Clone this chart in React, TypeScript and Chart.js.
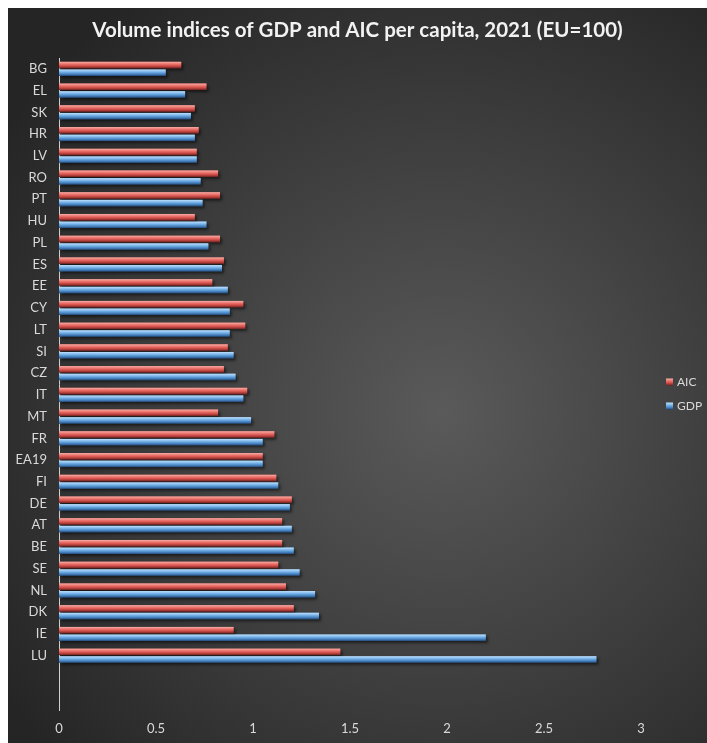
import React, { useEffect, useRef } from "react";
import { Chart, registerables } from "chart.js";

Chart.register(...registerables);

const TITLE = "Volume indices of GDP and AIC per capita, 2021 (EU=100)";
const categories = ["BG", "EL", "SK", "HR", "LV", "RO", "PT", "HU", "PL", "ES", "EE", "CY", "LT", "SI", "CZ", "IT", "MT", "FR", "EA19", "FI", "DE", "AT", "BE", "SE", "NL", "DK", "IE", "LU", "", ""];
const aicValues = [0.63, 0.76, 0.70, 0.72, 0.71, 0.82, 0.83, 0.70, 0.83, 0.85, 0.79, 0.95, 0.96, 0.87, 0.85, 0.97, 0.82, 1.11, 1.05, 1.12, 1.20, 1.15, 1.15, 1.13, 1.17, 1.21, 0.90, 1.45];
const gdpValues = [0.55, 0.65, 0.68, 0.70, 0.71, 0.73, 0.74, 0.76, 0.77, 0.84, 0.87, 0.88, 0.88, 0.90, 0.91, 0.95, 0.99, 1.05, 1.05, 1.13, 1.19, 1.20, 1.21, 1.24, 1.32, 1.34, 2.20, 2.77];
const seriesNames = ["AIC", "GDP"];

const redStops: [number, string][] = [[0, "#f7b0aa"], [0.25, "#ef827b"], [0.55, "#dc5752"], [0.8, "#aa3b38"], [1, "#6a2220"]];
const blueStops: [number, string][] = [[0, "#c0e0fb"], [0.25, "#92c4f2"], [0.55, "#5c9dd8"], [0.8, "#3f74b0"], [1, "#234876"]];
const stopSets = [redStops, blueStops];

function fillBevel(ctx: CanvasRenderingContext2D, stops: [number, string][], x: number, y: number, w: number, h: number) {
  const g = ctx.createLinearGradient(0, y, 0, y + h);
  stops.forEach(([o, c]) => g.addColorStop(o, c));
  ctx.fillStyle = g;
  ctx.fillRect(x, y, w, h);
}

const bevelPlugin = {
  id: "bevel",
  afterDatasetsDraw(chart: any) {
    const ctx = chart.ctx;
    chart.data.datasets.forEach((ds: any, di: number) => {
      const meta = chart.getDatasetMeta(di);
      meta.data.forEach((el: any) => {
        if (el.skip || el.x == null || isNaN(el.x)) return;
        const h = el.height;
        const top = el.y - h / 2;
        const left = Math.min(el.base, el.x);
        const w = Math.abs(el.x - el.base);
        if (!w) return;
        ctx.save();
        ctx.shadowColor = "rgba(0,0,0,0.55)";
        ctx.shadowOffsetX = 2;
        ctx.shadowOffsetY = 2;
        ctx.shadowBlur = 3;
        fillBevel(ctx, stopSets[di], left, top, w, h);
        ctx.restore();
      });
    });
  },
};

const sideLegendPlugin = {
  id: "sideLegend",
  afterDraw(chart: any) {
    const ctx = chart.ctx;
    const area = chart.chartArea;
    const x0 = area.right + 25;
    const midY = (area.top + area.bottom) / 2;
    const gap = 24;
    const n = chart.data.datasets.length;
    ctx.save();
    ctx.font = "12px Lato";
    ctx.textBaseline = "middle";
    ctx.textAlign = "left";
    chart.data.datasets.forEach((ds: any, i: number) => {
      const cy = midY + 10 + (i - (n - 1) / 2) * gap;
      fillBevel(ctx, stopSets[i], x0, cy - 3.5, 7, 7);
      ctx.fillStyle = "#d9d9d9";
      ctx.fillText(ds.label, x0 + 11, cy);
    });
    ctx.restore();
  },
};

export default function App() {
  const canvasRef = useRef<HTMLCanvasElement | null>(null);

  useEffect(() => {
    if (!canvasRef.current) return;
    const chart = new Chart(canvasRef.current, {
      type: "bar",
      data: {
        labels: categories,
        datasets: [
          { label: seriesNames[0], data: aicValues, backgroundColor: "#dc5752", borderWidth: 0, categoryPercentage: 0.7, barPercentage: 0.85 },
          { label: seriesNames[1], data: gdpValues, backgroundColor: "#5c9dd8", borderWidth: 0, categoryPercentage: 0.7, barPercentage: 0.85 },
        ],
      },
      options: {
        indexAxis: "y",
        responsive: false,
        animation: false,
        maintainAspectRatio: false,
        layout: { padding: { left: 0, right: 0, top: 0, bottom: 0 } },
        scales: {
          x: {
            min: 0,
            max: 3,
            afterFit: (s: any) => { s.height = 33; },
            ticks: {
              stepSize: 0.5,
              color: "#d9d9d9",
              font: { family: "Lato", size: 13 },
              padding: 11,
              callback: (v: any) => String(Number(v)),
            },
            grid: { display: false, drawTicks: false },
            border: { display: false },
          },
          y: {
            afterFit: (s: any) => { s.width = 51; },
            ticks: { color: "#d9d9d9", font: { family: "Lato", size: 13 }, padding: 12, autoSkip: false },
            grid: { display: false, drawTicks: false },
            border: { display: true, color: "#d0d0d0", width: 1 },
          },
          legendSpace: {
            type: "category",
            axis: "y",
            position: "right",
            afterFit: (s: any) => { s.width = 66; },
            ticks: { display: false },
            grid: { display: false, drawTicks: false },
            border: { display: false },
          },
        },
        plugins: {
          title: {
            display: true,
            text: TITLE,
            color: "#f2f2f2",
            font: { family: "Lato", size: 20.5, weight: "bold" },
            padding: { top: 10, bottom: 15.4 },
          },
          legend: { display: false },
          tooltip: { enabled: false },
        },
      },
      plugins: [bevelPlugin, sideLegendPlugin],
    } as any);
    return () => chart.destroy();
  }, []);

  return (
    <div
      style={{
        position: "absolute",
        left: 8,
        top: 8,
        width: 699,
        height: 735,
        background: "radial-gradient(ellipse 75% 70% at 62% 55%, #5a5a5a 0%, #3d3d3d 55%, #252525 100%)",
      }}
    >
      <canvas ref={canvasRef} width={699} height={735} style={{ display: "block" }} />
    </div>
  );
}
